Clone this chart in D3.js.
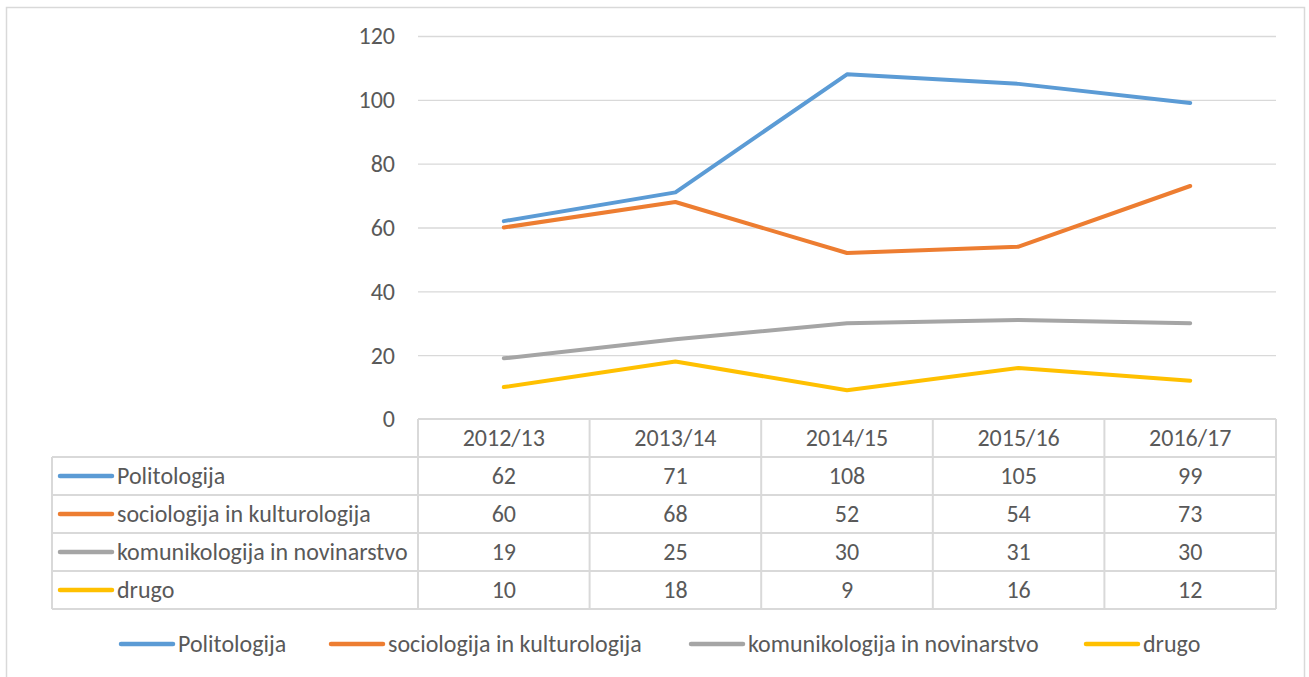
<!DOCTYPE html>
<html>
<head>
<meta charset="utf-8">
<script src="https://cdn.jsdelivr.net/npm/d3@7"></script>
<style>
  body { margin: 0; background: #fff; }
  text { font-family: Carlito, Lato, "Open Sans", sans-serif; fill: #595959; }
</style>
</head>
<body>
<svg id="chart"></svg>
<script>
const years = ["2012/13", "2013/14", "2014/15", "2015/16", "2016/17"];
const seriesNames = ["Politologija", "sociologija in kulturologija", "komunikologija in novinarstvo", "drugo"];
const politologija = [62, 71, 108, 105, 99];
const sociologija = [60, 68, 52, 54, 73];
const komunikologija = [19, 25, 30, 31, 30];
const drugo = [10, 18, 9, 16, 12];
const yTicks = [0, 20, 40, 60, 80, 100, 120];
const colors = ["#5B9BD5", "#ED7D31", "#A5A5A5", "#FFC000"];

const series = [politologija, sociologija, komunikologija, drugo].map((v, i) => ({
  name: seriesNames[i], values: v, color: colors[i]
}));

const width = 1309, height = 677;
const fs = "24px";
const svg = d3.select("#chart").attr("width", width).attr("height", height);

// outer chart border
svg.append("rect")
  .attr("x", 6.5).attr("y", 7.5)
  .attr("width", 1298).attr("height", 680)
  .attr("fill", "#fff").attr("stroke", "#d9d9d9").attr("stroke-width", 1.5);

const plotLeft = 418, plotRight = 1276, plotTop = 36, plotBottom = 419;
const tableLeft = 52, rowH = 38;

const x = d3.scaleBand().domain(years).range([plotLeft, plotRight]);
const y = d3.scaleLinear().domain([0, 120]).range([plotBottom, plotTop]);

// gridlines
svg.append("g").selectAll("line").data(yTicks.slice(1)).enter().append("line")
  .attr("x1", plotLeft).attr("x2", plotRight)
  .attr("y1", d => y(d) + 0.5).attr("y2", d => y(d) + 0.5)
  .attr("stroke", "#d9d9d9").attr("stroke-width", 1.3);

// y tick labels
svg.append("g").selectAll("text").data(yTicks).enter().append("text")
  .attr("x", 395).attr("y", d => y(d)).attr("dy", "0.35em")
  .attr("text-anchor", "end").style("font-size", fs)
  .text(d => d);

// lines
const line = d3.line()
  .x((d, i) => x(years[i]) + x.bandwidth() / 2)
  .y(d => y(d));

svg.append("g").selectAll("path").data(series).enter().append("path")
  .attr("d", d => line(d.values))
  .attr("fill", "none").attr("stroke", d => d.color)
  .attr("stroke-width", 4).attr("stroke-linejoin", "round").attr("stroke-linecap", "round");

// data table
const tbl = svg.append("g");
const gridStyle = sel => sel.attr("stroke", "#d9d9d9").attr("stroke-width", 2).attr("fill", "none");

// horizontal lines
const rowYs = d3.range(6).map(i => plotBottom + i * rowH);
rowYs.forEach((ry, i) => {
  tbl.append("line").call(gridStyle)
    .attr("x1", i === 0 ? plotLeft : tableLeft).attr("x2", plotRight)
    .attr("y1", ry).attr("y2", ry);
});
// vertical lines
const colXs = years.map(yr => x(yr)).concat([plotRight]);
colXs.forEach(cx => {
  tbl.append("line").call(gridStyle)
    .attr("x1", cx).attr("x2", cx)
    .attr("y1", plotBottom).attr("y2", plotBottom + 5 * rowH);
});
tbl.append("line").call(gridStyle)
  .attr("x1", tableLeft).attr("x2", tableLeft)
  .attr("y1", plotBottom + rowH).attr("y2", plotBottom + 5 * rowH);

// header
tbl.selectAll(".hdr").data(years).enter().append("text")
  .attr("x", d => x(d) + x.bandwidth() / 2).attr("y", plotBottom + rowH / 2)
  .attr("dy", "0.35em").attr("text-anchor", "middle").style("font-size", fs)
  .text(d => d);

// rows
series.forEach((s, r) => {
  const cy = plotBottom + rowH * (r + 1) + rowH / 2;
  tbl.append("line")
    .attr("x1", 60).attr("x2", 112).attr("y1", cy).attr("y2", cy)
    .attr("stroke", s.color).attr("stroke-width", 4.5).attr("stroke-linecap", "round");
  tbl.append("text").attr("x", 117).attr("y", cy).attr("dy", "0.35em")
    .style("font-size", fs).text(s.name);
  tbl.selectAll(null).data(s.values).enter().append("text")
    .attr("x", (d, i) => x(years[i]) + x.bandwidth() / 2).attr("y", cy)
    .attr("dy", "0.35em").attr("text-anchor", "middle").style("font-size", fs)
    .text(d => d);
});

// bottom legend
const legendX = [121, 331, 691, 1086];
const lg = svg.append("g");
series.forEach((s, i) => {
  const ly = 644;
  lg.append("line")
    .attr("x1", legendX[i]).attr("x2", legendX[i] + 52).attr("y1", ly).attr("y2", ly)
    .attr("stroke", s.color).attr("stroke-width", 4.5).attr("stroke-linecap", "round");
  lg.append("text").attr("x", legendX[i] + 57).attr("y", ly).attr("dy", "0.35em")
    .style("font-size", fs).text(s.name);
});
</script>
</body>
</html>
